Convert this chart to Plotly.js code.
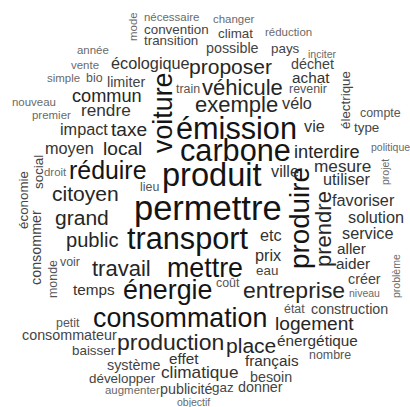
<!DOCTYPE html>
<html>
<head>
<meta charset="utf-8">
<script src="https://cdn.plot.ly/plotly-3.0.1.min.js"></script>
<style>html,body{margin:0;padding:0;background:#fff;}#chart{width:410px;height:407px;}</style>
</head>
<body>
<div id="chart"></div>
<script>
// Word cloud data: words and their frequencies
var words = ["permettre","transport","émission","carbone","produit","mettre","consommation","énergie","voiture","produire",
"réduire","entreprise","production","travail","véhicule","exemple","proposer","prendre","place","citoyen",
"grand","public","logement","local","taxe","commun","interdire","rendre","climatique","mesure",
"écologique","moyen","impact","utiliser","favoriser","solution","service","vélo","vie","ville",
"etc","prix","énergétique","français","temps","aller","aider","achat","limiter","possible",
"déchet","créer","construction","système","consommateur","besoin","donner","publicité","effet","climat",
"convention","transition","pays","baisser","développer","électrique","consommer","social","économie","gaz",
"eau","type","train","revenir","bio","coût","état","lieu","voir","petit",
"monde","nombre","compte","nécessaire","changer","réduction","mode","année","vente","simple",
"nouveau","premier","droit","inciter","augmenter","niveau","politique","projet","problème","objectif"];
var freq = [102,90,90,90,96,78,78,78,78,81,
72,66,66,63,63,63,60,63,60,60,
60,57,54,54,54,51,51,48,48,48,
45,45,45,45,45,45,45,45,45,45,
45,45,42,42,42,42,42,42,39,39,
39,39,39,39,39,39,39,39,42,36,
36,36,36,36,36,36,39,36,36,36,
36,36,33,33,33,33,33,33,33,33,
33,33,33,30,30,30,30,30,30,30,
30,30,30,27,30,27,27,27,27,27];
// cloud placement (pixel grid of the cloud) and orientation
var placeX = [208,187,236,235,212,205,180,167,163,299,
107,294,170,121,242,236,230,323,251,85,
82,92,314,122,129,107,327,106,199,342,
150,69,84,347,363,376,367,297,314,285,
271,268,317,272,94,351,353,311,126,232,
312,364,349,133,69,271,260,186,184,235,
176,171,285,94,122,345,36,38,23,223,
267,366,188,308,94,228,294,149,70,68,
53,330,380,171,234,288,133,93,85,63,
34,51,55,322,132,364,390,385,396,193];
var placeY = [208,238,128,150,175,268,318,290,113,218,
170,290,342,268,87,104,66,229,345,193,
217,240,323,148,129,96,152,110,372,166,
63,148,129,179,200,217,233,103,126,171,
235,255,340,360,289,248,263,77,82,48,
64,279,309,365,335,377,387,389,358,33,
29,40,48,350,378,100,248,172,200,387,
270,127,89,89,78,283,309,187,262,323,
279,355,113,17,19,32,27,50,65,78,
102,115,172,54,390,293,147,172,276,402];
var vertical = ["voiture","produire","prendre","électrique","consommer","social","économie","monde","mode","projet","problème"];

var fmin = Math.min.apply(null, freq), fmax = Math.max.apply(null, freq);
function sizeOf(f){ return 10.5 + (f - fmin) / (fmax - fmin) * (34.5 - 10.5); }
function colorOf(s){
  if (s >= 24) return '#141414';
  if (s >= 18) return '#262626';
  if (s >= 15) return '#333333';
  if (s >= 13) return '#444444';
  if (s >= 12) return '#555555';
  return '#6a6a6a';
}
var annotations = words.map(function(w, i){
  var s = sizeOf(freq[i]);
  return {
    x: placeX[i], y: placeY[i], xref: 'x', yref: 'y',
    text: w, showarrow: false, xanchor: 'center', yanchor: 'middle',
    textangle: vertical.indexOf(w) >= 0 ? -90 : 0,
    borderpad: 0,
    font: {family: '"Liberation Sans", Arial, sans-serif', size: s, color: colorOf(s)}
  };
});
var layout = {
  width: 410, height: 407,
  margin: {l: 0, r: 0, t: 0, b: 0},
  paper_bgcolor: '#ffffff', plot_bgcolor: '#ffffff',
  xaxis: {range: [0, 410], visible: false, fixedrange: true},
  yaxis: {range: [407, 0], visible: false, fixedrange: true},
  showlegend: false,
  annotations: annotations
};
Plotly.newPlot('chart', [{x: placeX, y: placeY, mode: 'markers', marker: {opacity: 0}, hoverinfo: 'skip', type: 'scatter'}], layout, {displayModeBar: false, staticPlot: true});
</script>
</body>
</html>
